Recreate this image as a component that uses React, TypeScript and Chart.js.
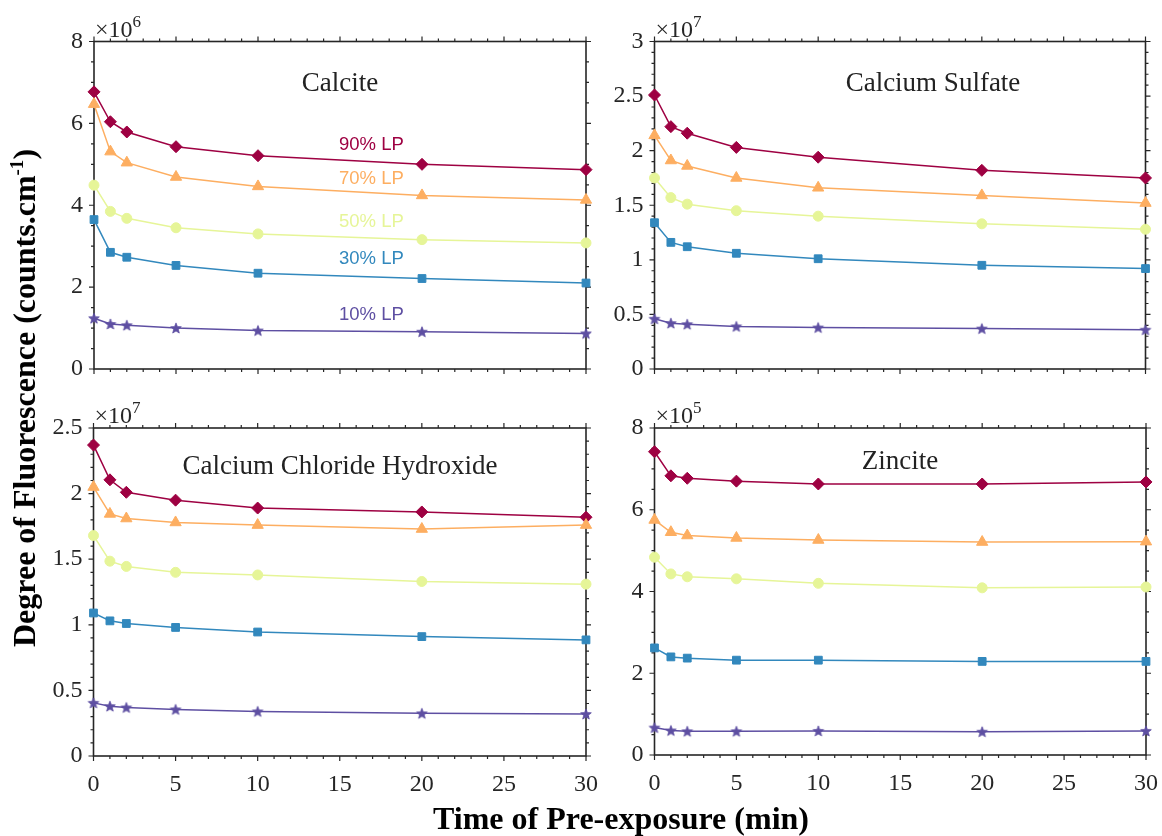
import React, { useEffect, useRef } from "react";
import { Chart, registerables } from "chart.js";

Chart.register(...registerables);

// ---------- data ----------
const TIMES = [0, 1, 2, 5, 10, 20, 30];
const LP_LABELS = ["90% LP", "70% LP", "50% LP", "30% LP", "10% LP"];
const LP_COLORS = ["#9e0142", "#fdae61", "#e6f598", "#3288bd", "#5e4fa2"];

// Calcite (x10^6)
const calcite90 = [6.77, 6.04, 5.79, 5.43, 5.21, 5.0, 4.87];
const calcite70 = [6.47, 5.31, 5.04, 4.69, 4.46, 4.24, 4.13];
const calcite50 = [4.49, 3.85, 3.68, 3.45, 3.3, 3.16, 3.08];
const calcite30 = [3.65, 2.85, 2.73, 2.53, 2.34, 2.21, 2.1];
const calcite10 = [1.24, 1.1, 1.07, 1.0, 0.94, 0.91, 0.87];

// Calcium Sulfate (x10^7)
const sulfate90 = [2.51, 2.22, 2.16, 2.03, 1.94, 1.82, 1.75];
const sulfate70 = [2.14, 1.91, 1.86, 1.75, 1.66, 1.59, 1.52];
const sulfate50 = [1.75, 1.57, 1.51, 1.45, 1.4, 1.33, 1.28];
const sulfate30 = [1.34, 1.16, 1.12, 1.06, 1.01, 0.95, 0.92];
const sulfate10 = [0.46, 0.42, 0.41, 0.39, 0.38, 0.37, 0.36];

// Calcium Chloride Hydroxide (x10^7)
const chloride90 = [2.37, 2.105, 2.01, 1.95, 1.89, 1.86, 1.82];
const chloride70 = [2.05, 1.845, 1.81, 1.78, 1.76, 1.73, 1.76];
const chloride50 = [1.68, 1.485, 1.445, 1.4, 1.38, 1.33, 1.31];
const chloride30 = [1.09, 1.03, 1.01, 0.98, 0.945, 0.91, 0.885];
const chloride10 = [0.405, 0.38, 0.37, 0.355, 0.34, 0.325, 0.32];

// Zincite (x10^5)
const zincite90 = [7.42, 6.83, 6.77, 6.7, 6.63, 6.63, 6.68];
const zincite70 = [5.75, 5.45, 5.37, 5.31, 5.26, 5.21, 5.22];
const zincite50 = [4.84, 4.43, 4.36, 4.31, 4.2, 4.09, 4.11];
const zincite30 = [2.62, 2.4, 2.37, 2.32, 2.32, 2.29, 2.29];
const zincite10 = [0.67, 0.6, 0.58, 0.58, 0.59, 0.57, 0.59];

const X_TICKS_STEP = 5;
const X_MINOR_STEP = 1;

// ---------- styling helpers ----------
const SERIF = "'Liberation Serif', 'Times New Roman', serif";
const SANS = "'Liberation Sans', Arial, sans-serif";
const AXIS_COLOR = "#262626";
const TICK_FONT = 24;
const X_TICK_PAD = 6;

function makeStar(color: string): HTMLCanvasElement {
  const c = document.createElement("canvas");
  const s = 14;
  c.width = s;
  c.height = s;
  const ctx = c.getContext("2d")!;
  const cx = s / 2, cy = s / 2 + 0.5, R = 5.6, r = 2.4;
  ctx.beginPath();
  for (let i = 0; i < 10; i++) {
    const ang = -Math.PI / 2 + (i * Math.PI) / 5;
    const rr = i % 2 === 0 ? R : r;
    const px = cx + rr * Math.cos(ang), py = cy + rr * Math.sin(ang);
    if (i === 0) ctx.moveTo(px, py);
    else ctx.lineTo(px, py);
  }
  ctx.closePath();
  ctx.fillStyle = color;
  ctx.fill();
  ctx.strokeStyle = color;
  ctx.lineWidth = 0.8;
  ctx.stroke();
  return c;
}

const framePlugin = {
  id: "frame",
  beforeDatasetsDraw(chart: any, _args: any, opts: any) {
    const { ctx, chartArea: a, scales } = chart;
    const xs = scales.x, ys = scales.y;
    ctx.save();
    ctx.strokeStyle = AXIS_COLOR;
    ctx.lineWidth = 1.6;
    ctx.strokeRect(a.left, a.top, a.right - a.left, a.bottom - a.top);
    ctx.lineWidth = 1.2;
    ctx.beginPath();
    for (let v = 0; v <= 30 + 1e-9; v += X_MINOR_STEP) {
      const px = xs.getPixelForValue(v);
      const L = v % X_TICKS_STEP === 0 ? 5 : 3;
      ctx.moveTo(px, a.bottom);
      ctx.lineTo(px, a.bottom + L);
      ctx.moveTo(px, a.top);
      ctx.lineTo(px, a.top - L);
    }
    const n = Math.round(opts.ymax / opts.minor);
    for (let i = 0; i <= n; i++) {
      const v = i * opts.minor;
      const py = ys.getPixelForValue(v);
      const q = v / opts.major;
      const L = Math.abs(q - Math.round(q)) < 1e-6 ? 5 : 3;
      ctx.moveTo(a.left, py);
      ctx.lineTo(a.left - L, py);
      ctx.moveTo(a.right, py);
      ctx.lineTo(a.right + L, py);
    }
    ctx.stroke();
    ctx.restore();
  },
};

type PanelDef = {
  title: string;
  exp: number;
  series: number[][];
  ymax: number;
  major: number;
  minor: number;
  left: number;
  top: number;
  width: number;
  height: number;
  yWidth: number;
  padTop: number;
  padRight: number;
  xHeight: number;
  showX: boolean;
  titleX: number;
  titleY: number;
  labels?: { text: string; color: string; y: number }[];
};

const PANELS: PanelDef[] = [
  {
    title: "Calcite",
    exp: 6,
    series: [calcite90, calcite70, calcite50, calcite30, calcite10],
    ymax: 8, major: 2, minor: 0.5,
    left: 30, top: 0, width: 570, height: 400,
    yWidth: 64, padTop: 41.5, padRight: 14, xHeight: 31, showX: false,
    titleX: 340, titleY: 81.5,
    labels: [
      { text: LP_LABELS[0], color: LP_COLORS[0], y: 143 },
      { text: LP_LABELS[1], color: LP_COLORS[1], y: 177 },
      { text: LP_LABELS[2], color: LP_COLORS[2], y: 220 },
      { text: LP_LABELS[3], color: LP_COLORS[3], y: 257 },
      { text: LP_LABELS[4], color: LP_COLORS[4], y: 313 },
    ],
  },
  {
    title: "Calcium Sulfate",
    exp: 7,
    series: [sulfate90, sulfate70, sulfate50, sulfate30, sulfate10],
    ymax: 3, major: 0.5, minor: 0.1,
    left: 600, top: 0, width: 562, height: 400,
    yWidth: 54.5, padTop: 41.5, padRight: 16.5, xHeight: 31, showX: false,
    titleX: 933, titleY: 81.5,
  },
  {
    title: "Calcium Chloride Hydroxide",
    exp: 7,
    series: [chloride90, chloride70, chloride50, chloride30, chloride10],
    ymax: 2.5, major: 0.5, minor: 0.1,
    left: 30, top: 386, width: 574, height: 450,
    yWidth: 63.5, padTop: 42, padRight: 18, xHeight: 80, showX: true,
    titleX: 340, titleY: 465,
  },
  {
    title: "Zincite",
    exp: 5,
    series: [zincite90, zincite70, zincite50, zincite30, zincite10],
    ymax: 8, major: 2, minor: 0.5,
    left: 600, top: 386, width: 564, height: 450,
    yWidth: 54.5, padTop: 42, padRight: 18, xHeight: 81, showX: true,
    titleX: 900, titleY: 460,
  },
];

const POINT_STYLES: any[] = ["rectRot", "triangle", "circle", "rect", "star"];
const POINT_RADII = [6, 6.5, 5, 5.5, 5];

function Panel({ def }: { def: PanelDef }) {
  const ref = useRef<HTMLCanvasElement>(null);
  useEffect(() => {
    if (!ref.current) return;
    const datasets = def.series
      .map((vals, i) => ({
        label: LP_LABELS[i],
        data: TIMES.map((t, j) => ({ x: t, y: vals[j] })),
        borderColor: LP_COLORS[i],
        backgroundColor: LP_COLORS[i],
        pointBackgroundColor: LP_COLORS[i],
        pointBorderColor: LP_COLORS[i],
        pointBorderWidth: 1,
        pointStyle: POINT_STYLES[i] === "star" ? makeStar(LP_COLORS[i]) : POINT_STYLES[i],
        pointRadius: POINT_RADII[i],
        borderWidth: 1.5,
        tension: 0,
        clip: false as any,
      }))
      .reverse();
    const chart = new Chart(ref.current, {
      type: "line",
      data: { datasets },
      plugins: [framePlugin],
      options: {
        animation: false,
        responsive: false,
        maintainAspectRatio: false,
        events: [],
        layout: {
          padding: { top: def.padTop, right: def.padRight, left: 0, bottom: 0 },
        },
        plugins: {
          legend: { display: false },
          tooltip: { enabled: false },
          frame: { ymax: def.ymax, major: def.major, minor: def.minor },
        } as any,
        scales: {
          x: {
            type: "linear",
            min: 0,
            max: 30,
            grid: { display: false },
            border: { display: false },
            ticks: {
              display: def.showX,
              stepSize: X_TICKS_STEP,
              color: AXIS_COLOR,
              padding: X_TICK_PAD,
              font: { family: SERIF, size: TICK_FONT },
              maxRotation: 0,
              callback: (v: any) => String(v),
            },
            afterFit: (s: any) => {
              s.height = def.xHeight;
            },
          },
          y: {
            type: "linear",
            min: 0,
            max: def.ymax,
            grid: { display: false },
            border: { display: false },
            ticks: {
              stepSize: def.major,
              color: AXIS_COLOR,
              padding: 3,
              font: { family: SERIF, size: TICK_FONT },
              callback: (v: any) => String(Math.round(Number(v) * 100) / 100),
            },
            afterFit: (s: any) => {
              s.width = def.yWidth;
            },
          },
        },
      },
    });
    return () => chart.destroy();
  }, [def]);

  const plotLeft = def.left + def.yWidth;
  const plotTop = def.top + def.padTop;
  return (
    <>
      <canvas
        ref={ref}
        width={def.width}
        height={def.height}
        style={{ position: "absolute", left: def.left, top: def.top, width: def.width, height: def.height }}
      />
      <div
        style={{
          position: "absolute",
          left: plotLeft + 1,
          top: plotTop - 25,
          fontFamily: SERIF,
          fontSize: 24,
          lineHeight: "24px",
          color: AXIS_COLOR,
          whiteSpace: "nowrap",
        }}
      >
        ×10
        <span style={{ fontSize: 17, position: "relative", top: -10 }}>{def.exp}</span>
      </div>
      <div
        style={{
          position: "absolute",
          left: def.titleX,
          top: def.titleY,
          transform: "translate(-50%, -50%)",
          fontFamily: SERIF,
          fontSize: 27,
          lineHeight: "27px",
          color: "#222",
          whiteSpace: "nowrap",
        }}
      >
        {def.title}
      </div>
      {def.labels?.map((l) => (
        <div
          key={l.text}
          style={{
            position: "absolute",
            left: 339,
            top: l.y,
            transform: "translateY(-50%)",
            fontFamily: SANS,
            fontSize: 18.5,
            lineHeight: "19px",
            color: l.color,
            whiteSpace: "nowrap",
          }}
        >
          {l.text}
        </div>
      ))}
    </>
  );
}

export default function App() {
  return (
    <div
      style={{
        position: "absolute",
        left: 0,
        top: 0,
        width: 1162,
        height: 836,
        background: "#ffffff",
        overflow: "hidden",
      }}
    >
      {PANELS.map((p) => (
        <Panel key={p.title} def={p} />
      ))}
      <div
        style={{
          position: "absolute",
          left: 24,
          top: 398,
          transform: "translate(-50%, -50%) rotate(-90deg)",
          fontFamily: SERIF,
          fontWeight: "bold",
          fontSize: 32,
          lineHeight: "32px",
          color: "#000",
          whiteSpace: "nowrap",
        }}
      >
        Degree of Fluorescence (counts.cm<sup style={{ fontSize: 19, lineHeight: 0 }}>-1</sup>)
      </div>
      <div
        style={{
          position: "absolute",
          left: 621,
          top: 818,
          transform: "translate(-50%, -50%)",
          fontFamily: SERIF,
          fontWeight: "bold",
          fontSize: 32,
          lineHeight: "32px",
          color: "#000",
          whiteSpace: "nowrap",
        }}
      >
        Time of Pre-exposure (min)
      </div>
    </div>
  );
}
